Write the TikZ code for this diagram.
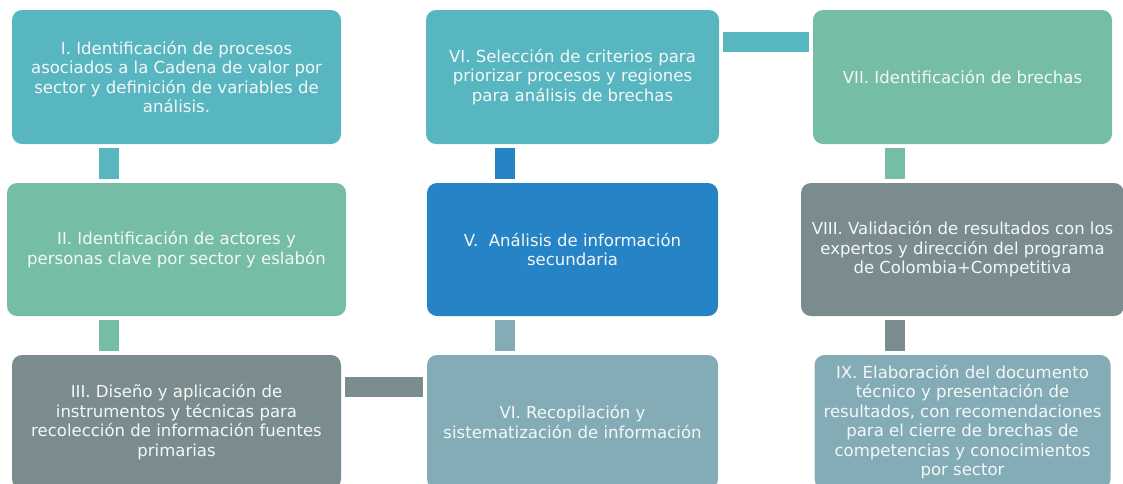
\documentclass[tikz,border=0pt]{standalone}
\usepackage{fontspec}
\setmainfont{DejaVu Sans}
\definecolor{cA}{HTML}{58B6C0}
\definecolor{cB}{HTML}{75BDA7}
\definecolor{cC}{HTML}{7A8C8E}
\definecolor{cD}{HTML}{84ACB6}
\definecolor{cE}{HTML}{2683C6}
\definecolor{txt}{HTML}{F4F8F8}
\tikzset{
  box/.style={rectangle, rounded corners=7.5pt, inner sep=0pt, align=center,
    text=txt, font=\fontsize{12.4pt}{14.6pt}\selectfont},
  conn/.style={line width=15pt, shorten <=3pt, shorten >=3pt}
}
\begin{document}
\begin{tikzpicture}[x=0.75pt,y=-0.75pt]
\useasboundingbox (0,0) rectangle (1123,483);
\clip (0,0) rectangle (1123,483);
% column 1
\node[box, fill=cA, minimum width=246.75pt, minimum height=100.5pt] (b1) at (176.5,77)
  {I. Identificación de procesos\\asociados a la Cadena de valor por\\sector y definición de variables de\\análisis.};
\node[box, fill=cB, minimum width=254.25pt, minimum height=99.75pt] (b2) at (176.5,249.5)
  {II. Identificación de actores y\\personas clave por sector y eslabón};
\node[box, fill=cC, minimum width=246.75pt, minimum height=100.5pt] (b3) at (176.5,422)
  {III. Diseño y aplicación de\\instrumentos y técnicas para\\recolección de información fuentes\\primarias};
% column 2
\node[box, fill=cA, minimum width=219.75pt, minimum height=100.5pt] (b6) at (572.5,77)
  {VI. Selección de criterios para\\priorizar procesos y regiones\\para análisis de brechas};
\node[box, fill=cE, minimum width=218.25pt, minimum height=99.75pt] (b5) at (572.5,249.5)
  {V.\ \ Análisis de información\\secundaria};
\node[box, fill=cD, minimum width=218.25pt, minimum height=100.5pt] (b4) at (572.5,422)
  {VI. Recopilación y\\sistematización de información};
% column 3
\node[box, fill=cB, minimum width=224.25pt, minimum height=100.5pt] (b7) at (962.5,77)
  {VII. Identificación de brechas};
\node[box, fill=cC, minimum width=242.25pt, minimum height=99.75pt] (b8) at (962.5,249.5)
  {VIII. Validación de resultados con los\\expertos y dirección del programa\\de Colombia+Competitiva};
\node[box, fill=cD, minimum width=222pt, minimum height=100.5pt] (b9) at (962.5,422)
  {IX. Elaboración del documento\\técnico y presentación de\\resultados, con recomendaciones\\para el cierre de brechas de\\competencias y conocimientos\\por sector};
% connectors
\draw[conn, cA] ([xshift=-50.6pt]b1.south) -- ([xshift=-50.6pt]b2.north);
\draw[conn, cB] ([xshift=-50.6pt]b2.south) -- ([xshift=-50.6pt]b3.north);
\draw[conn, cC] ([yshift=26.25pt]b3.east) -- ([yshift=26.25pt]b4.west);
\draw[conn, cD] ([xshift=-51pt]b4.north) -- ([xshift=-51pt]b5.south);
\draw[conn, cE] ([xshift=-51pt]b5.north) -- ([xshift=-51pt]b6.south);
\draw[conn, cA] ([yshift=25.9pt]b6.east) -- ([yshift=25.9pt]b7.west);
\draw[conn, cB] ([xshift=-51pt]b7.south) -- ([xshift=-51pt]b8.north);
\draw[conn, cC] ([xshift=-51pt]b8.south) -- ([xshift=-51pt]b9.north);
\end{tikzpicture}
\end{document}
